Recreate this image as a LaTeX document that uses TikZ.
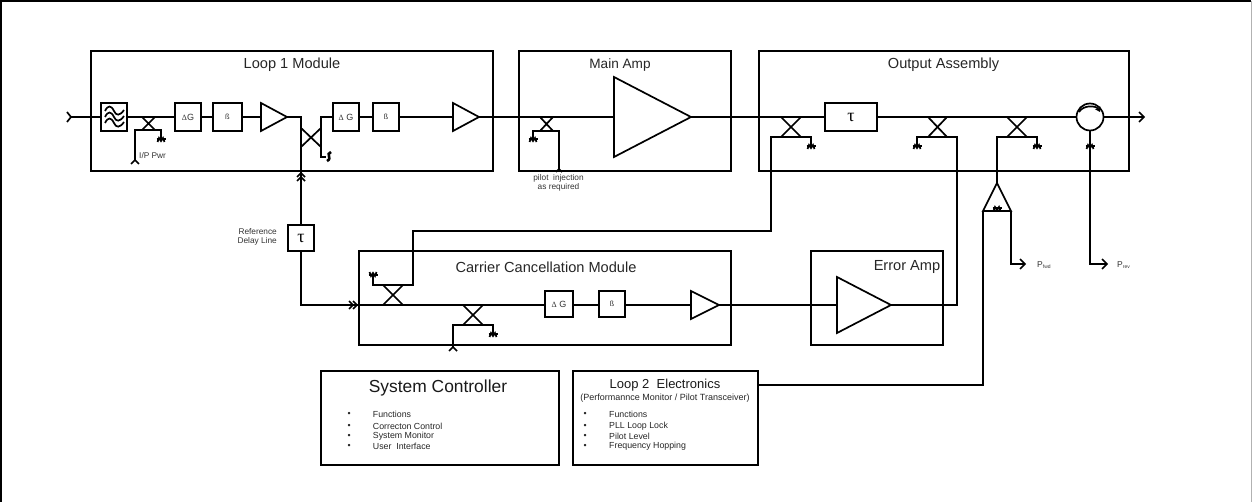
\documentclass[tikz,border=0pt]{standalone}
\usepackage{fontspec}
\setmainfont{Liberation Sans}
\newfontfamily\symfont{Liberation Serif}
\usetikzlibrary{arrows.meta}
\tikzset{
  wire/.style={line width=1.7pt,line join=miter},
  box/.style={draw,line width=1.7pt,rectangle,inner sep=0pt,outer sep=0pt,anchor=north west},
  mtitle/.style={inner sep=0pt,font=\fontsize{14.6}{16}\selectfont,text=black!85},
  tiny/.style={inner sep=0pt,font=\fontsize{8.3}{9.5}\selectfont,text=black!80},
  listtxt/.style={inner sep=0pt,anchor=west,font=\fontsize{8.8}{10}\selectfont,text=black!85},
  blk/.style={inner sep=0pt,font=\fontsize{9}{10}\selectfont,text=black!80},
  termh/.pic={\draw[line width=2.6pt] (-4.5,3) -- (4.5,3); \draw[line width=1.7pt] (-3.5,6)--(-2,2)--(0,5)--(2,2)--(3.5,6);}
}
\newcommand{\xcoupler}[4]{\draw[wire] (#1,#3) -- (#2,#4) (#1,#4) -- (#2,#3);}
\newcommand{\gbox}[6]{\node[box,minimum width=#3*1pt,minimum height=#4*1pt] (#5) at (#1,#2) {}; \node[blk] at (#5.center) {#6};}
\newcommand{\amp}[5]{\coordinate (#5) at (#3,{(#1+#2)/2}); \draw[wire] (#4,#1) -- (#3,{(#1+#2)/2}) -- (#4,#2) -- cycle;}
\newcommand{\dg}{{\symfont\fontsize{8}{9}\selectfont Δ}}
\newcommand{\bt}{{\fontsize{7.5}{8}\selectfont ß}}
\begin{document}
\begin{tikzpicture}[x=1pt,y=-1pt]
\useasboundingbox (0,0) rectangle (1252,502);
% frame
\draw[line width=1.7pt] (1,502) -- (1,1) -- (1251,1);
\draw[line width=0.8pt,black!30] (1251,1) -- (1251,502);
% modules
\node[box,minimum width=402pt,minimum height=120pt] (loopone) at (91,51) {};
\node[mtitle] at (292,65) {Loop 1 Module};
\node[box,minimum width=212pt,minimum height=120pt] (mainamp) at (519,51) {};
\node[mtitle,font=\fontsize{13.6}{16}\selectfont] at (620,65) {Main Amp};
\node[box,minimum width=370pt,minimum height=120pt] (outasm) at (759,51) {};
\node[mtitle] at (943.5,65) {Output Assembly};
\node[box,minimum width=372pt,minimum height=94pt] (carrier) at (359,251) {};
\node[mtitle] at (546,267) {Carrier Cancellation Module};
\node[box,minimum width=132pt,minimum height=94pt] (erramp) at (811,251) {};
\node[mtitle] at (907,267) {Error Amp};
\node[box,minimum width=238pt,minimum height=94pt] (sysctl) at (321,371) {};
\node[inner sep=0pt,font=\fontsize{17.4}{19}\selectfont,text=black!90] at (438,388) {System Controller};
\node[box,minimum width=185pt,minimum height=94pt] (looptwo) at (573,371) {};
\node[inner sep=0pt,font=\fontsize{13}{15}\selectfont,text=black!90] at (665,385) {Loop 2\ \ Electronics};
\node[inner sep=0pt,font=\fontsize{9}{10}\selectfont,text=black!85] at (665,398) {(Performannce Monitor / Pilot Transceiver)};
% lists
\foreach \yy/\tt in {414/Functions,426/Correcton Control,436/System Monitor,446/User\ \ Interface}{
  \node[listtxt] at (372.7,\yy) {\tt}; \node[listtxt] at (347.5,\yy+0.5) {•};}
\foreach \yy/\tt in {414/Functions,426/PLL Loop Lock,436/Pilot Level,446/Frequency Hopping}{
  \node[listtxt] at (609,\yy) {\tt}; \node[listtxt] at (583.5,\yy+0.5) {•};}
% top row components
\node[box,minimum width=26pt,minimum height=28pt] (filter) at (101,103) {};
\gbox{175}{103}{26}{28}{gaina}{\dg G}
\gbox{213}{103}{29}{28}{phasea}{\bt}
\amp{103}{131}{287}{261}{ampa}
\gbox{333}{103}{26}{28}{gainb}{\dg\ G}
\gbox{373}{103}{26}{28}{phaseb}{\bt}
\amp{103}{131}{479}{453}{ampb}
\amp{77}{157}{691}{614}{ampm}
\node[box,minimum width=52pt,minimum height=28pt] (delayo) at (825,103) {};
\node[font=\symfont\fontsize{18}{18}\selectfont,inner sep=0pt] at (delayo.center) {τ};
\node[draw,circle,line width=1.7pt,minimum size=27pt,inner sep=0pt,outer sep=0pt] (circ) at (1090,117) {};
% filter glyph
\foreach \dy in {-6,0,6}{
  \draw[line width=1.7pt] (105,117+\dy) .. controls (108,111+\dy) and (111,111+\dy) .. (114,117+\dy) .. controls (116,122+\dy) and (120,122+\dy) .. (124,116+\dy);}
% circulator arc
\draw[line width=1.7pt,-{Stealth[length=5pt,width=6pt]}] (1079,112) .. controls (1083,105) and (1096,105) .. (1100,112);
% main line
\coordinate (inp) at (71,117);
\coordinate (outp) at (1144,117);
\draw[wire] (inp) -- (filter.west |- inp);
\draw[wire] (67,112) -- (71,117) -- (67,122);
\draw[wire] (filter.east |- inp) -- (gaina.west |- inp);
\draw[wire] (gaina.east |- inp) -- (phasea.west |- inp);
\draw[wire] (phasea.east |- inp) -- (261,117);
\draw[wire] (ampa) -- (301,117) -- (301,225);
\draw[wire] (333,117) -- (321,117) -- (321,157) -- (326,157);
\draw[wire] (gainb.east |- inp) -- (phaseb.west |- inp);
\draw[wire] (phaseb.east |- inp) -- (453,117);
\draw[wire] (ampb) -- (614,117);
\draw[wire] (ampm) -- (delayo.west |- inp);
\draw[wire] (delayo.east |- inp) -- (circ.west |- inp);
\draw[wire] (circ.east |- inp) -- (outp);
\draw[wire] (1139,112) -- (1144,117) -- (1139,122);
% coupler 1
\xcoupler{142}{155}{117}{130}
\draw[wire] (135,160) -- (135,130) -- (161,130) -- (161,138);
\draw[wire] (131,164) -- (135,160) -- (139,164);
\node[tiny,anchor=west] at (139,156) {I/P Pwr};
\pic at (161,136) {termh};
% coupler 2
\xcoupler{301}{321}{128}{147}
\draw[line width=2.6pt] (331,152) .. controls (325,154) and (333,158) .. (327,161);
% ref line
\node[box,minimum width=26pt,minimum height=26pt] (delayr) at (288,225) {};
\node[font=\symfont\fontsize{18}{18}\selectfont,inner sep=0pt] at (delayr.center) {τ};
\node[tiny,align=right,anchor=east] at (277,237) {Reference\\[-0.5pt]Delay Line};
\draw[wire] (297,177) -- (301,173) -- (305,177) (297,181) -- (301,177) -- (305,181);
\draw[wire] (delayr.south) -- (301,305) -- (359,305);
\draw[wire] (349,301) -- (353,305) -- (349,309) (353,301) -- (357,305) -- (353,309);
% main amp coupler
\xcoupler{540}{553}{117}{131}
\draw[wire] (533,139) -- (533,131) -- (559,131) -- (559,171);
\pic at (533,136) {termh};
\draw[wire] (556,172) -- (559,169) -- (562,172);
\node[tiny,align=center] at (558.5,183) {pilot\ \ injection\\[-0.5pt]as required};
% output couplers
\xcoupler{781}{801}{117}{137}
\draw[wire] (811,146) -- (811,137) -- (771,137) -- (771,231) -- (413,231) -- (413,285) -- (373,285) -- (373,275);
\pic at (811,143) {termh};
\xcoupler{928}{947}{117}{137}
\draw[wire] (917,146) -- (917,137) -- (957,137) -- (957,305) -- (891,305);
\pic at (917,143) {termh};
\xcoupler{1007}{1027}{117}{137}
\draw[wire] (1037,146) -- (1037,137) -- (997,137) -- (997,183);
\pic at (1037,143) {termh};
% pick-off triangle
\draw[wire] (997,183) -- (983,211) -- (1011,211) -- cycle;
\pic at (997,205) {termh};
\draw[wire] (983,211) -- (983,385) -- (looptwo.east |- 0,385);
\draw[wire] (1011,211) -- (1011,264) -- (1025,264);
\draw[wire] (1020,259) -- (1025,264) -- (1020,269);
\node[inner sep=0pt,anchor=west,font=\fontsize{8.5}{9}\selectfont,text=black!80] at (1037,265) {P\raisebox{-1.5pt}{\fontsize{5}{5}\selectfont fwd}};
% circulator load
\draw[wire] (circ.south) -- (1090,264) -- (1107,264);
\draw[wire] (1102,259) -- (1107,264) -- (1102,269);
\pic at (1090,143) {termh};
\node[inner sep=0pt,anchor=west,font=\fontsize{8.5}{9}\selectfont,text=black!80] at (1117,265) {P\raisebox{-1.5pt}{\fontsize{5}{5}\selectfont rev}};
% carrier line
\draw[wire] (359,305) -- (545,305);
\gbox{545}{291}{28}{26}{gainc}{\dg\ G}
\gbox{599}{291}{26}{26}{phasec}{\bt}
\amp{291}{319}{719}{691}{ampc}
\draw[wire] (gainc.east |- 0,305) -- (phasec.west |- 0,305);
\draw[wire] (phasec.east |- 0,305) -- (691,305);
\draw[wire] (ampc) -- (837,305);
\amp{277}{333}{891}{837}{ampe}
% carrier couplers
\xcoupler{383}{403}{285}{305}
\pic[yscale=-1] at (373,278) {termh};
\xcoupler{463}{483}{305}{325}
\draw[wire] (453,347) -- (453,325) -- (493,325) -- (493,334);
\draw[wire] (449,351) -- (453,347) -- (457,351);
\pic at (493,331) {termh};
\end{tikzpicture}
\end{document}
